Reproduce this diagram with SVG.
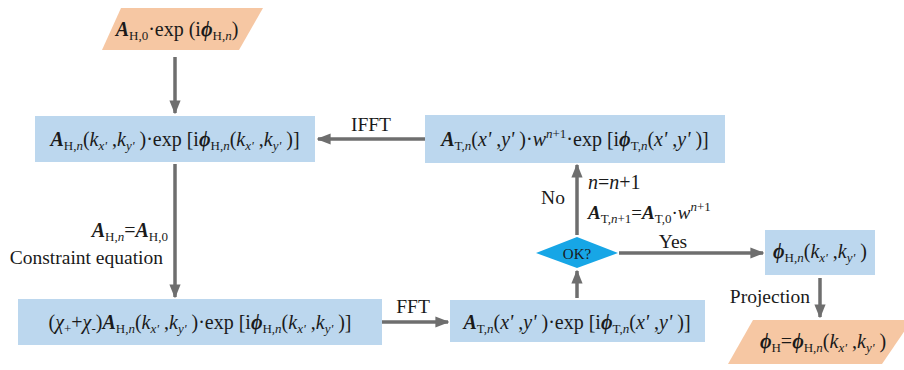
<svg xmlns="http://www.w3.org/2000/svg" width="904" height="370" viewBox="0 0 904 370" font-family="Liberation Serif, serif">
  <style>
    .m { font-size: 20px; fill: #1a1a1a; }
    .lbl { font-size: 19.5px; fill: #1a1a1a; }
    .A { font-weight: bold; font-style: italic; }
    .i { font-style: italic; }
    .s { font-size: 13px; }
    .box { fill: #bcd7ee; }
    .io { fill: #f6c7a3; }
    .dec { fill: #17a6e6; }
    .wire { stroke: #6e6e6e; stroke-width: 3.5; fill: none; marker-end: url(#head); }
  </style>
  <defs>
    <marker id="head" viewBox="0 0 10 10" refX="9" refY="5" markerWidth="4" markerHeight="4" orient="auto" markerUnits="strokeWidth">
      <path d="M0,1 L10,5 L0,9 z" fill="#6e6e6e"/>
    </marker>
  </defs>

  <!-- connectors and their labels -->
  <g id="connectors">
    <line class="wire" x1="175" y1="57" x2="175" y2="113"/>
    <line class="wire" x1="425" y1="139" x2="318" y2="139"/>
    <line class="wire" x1="175" y1="164" x2="175" y2="297"/>
    <line class="wire" x1="382" y1="322" x2="448" y2="322"/>
    <line class="wire" x1="577" y1="298" x2="577" y2="271"/>
    <line class="wire" x1="577" y1="235" x2="577" y2="165"/>
    <line class="wire" x1="619" y1="253" x2="763" y2="253"/>
    <line class="wire" x1="820" y1="278" x2="820" y2="317"/>
    <text class="lbl" x="371" y="131" text-anchor="middle">IFFT</text>
    <text class="lbl" x="413" y="313" text-anchor="middle">FFT</text>
    <text class="lbl" x="673" y="248" text-anchor="middle">Yes</text>
    <text class="lbl" x="553" y="204" text-anchor="middle">No</text>
    <text class="lbl" x="810" y="303" text-anchor="end">Projection</text>
    <text class="lbl" x="163" y="264" text-anchor="end">Constraint equation</text>
    <text class="m" x="168" y="237" text-anchor="end" font-size="19"><tspan class="A">A</tspan><tspan class="s" dy="4">H,<tspan class="i">n</tspan></tspan><tspan dy="-4">=</tspan><tspan class="A">A</tspan><tspan class="s" dy="4">H,0</tspan></text>
    <text class="m" x="588" y="189"><tspan class="i">n</tspan>=<tspan class="i">n</tspan>+1</text>
    <text class="m" x="588" y="219" style="font-size:19px"><tspan class="A">A</tspan><tspan class="s" dy="4">T,<tspan class="i">n</tspan>+1</tspan><tspan dy="-4">=</tspan><tspan class="A">A</tspan><tspan class="s" dy="4">T,0</tspan><tspan dy="-4">·</tspan><tspan class="i">w</tspan><tspan class="s" dy="-8"><tspan class="i">n</tspan>+1</tspan></text>
  </g>

  <g id="start">
    <polygon class="io" points="121,8 263,8 239,50 102,50"/>
    <text class="m" x="177" y="36" text-anchor="middle"><tspan class="A">A</tspan><tspan class="s" dy="4">H,0</tspan><tspan dy="-4">·exp (i</tspan><tspan class="A">ϕ</tspan><tspan class="s" dy="4">H,<tspan class="i">n</tspan></tspan><tspan dy="-4">)</tspan></text>
  </g>

  <g id="holo-field">
    <rect class="box" x="35" y="116" width="280" height="46"/>
    <text class="m" x="175" y="146" text-anchor="middle"><tspan class="A">A</tspan><tspan class="s" dy="4">H,<tspan class="i">n</tspan></tspan><tspan dy="-4">(</tspan><tspan class="i">k</tspan><tspan class="s i" dy="4">x'</tspan><tspan dy="-4"> ,</tspan><tspan class="i">k</tspan><tspan class="s i" dy="4">y'</tspan><tspan dy="-4"> )·exp [i</tspan><tspan class="A">ϕ</tspan><tspan class="s" dy="4">H,<tspan class="i">n</tspan></tspan><tspan dy="-4">(</tspan><tspan class="i">k</tspan><tspan class="s i" dy="4">x'</tspan><tspan dy="-4"> ,</tspan><tspan class="i">k</tspan><tspan class="s i" dy="4">y'</tspan><tspan dy="-4"> )]</tspan></text>
  </g>

  <g id="target-weighted">
    <rect class="box" x="425" y="115" width="300" height="48"/>
    <text class="m" x="575" y="146" text-anchor="middle"><tspan class="A">A</tspan><tspan class="s" dy="4">T,<tspan class="i">n</tspan></tspan><tspan dy="-4">(</tspan><tspan class="i">x'</tspan> ,<tspan class="i">y'</tspan> )·<tspan class="i">w</tspan><tspan class="s" dy="-8"><tspan class="i">n</tspan>+1</tspan><tspan dy="8">·exp [i</tspan><tspan class="A">ϕ</tspan><tspan class="s" dy="4">T,<tspan class="i">n</tspan></tspan><tspan dy="-4">(</tspan><tspan class="i">x'</tspan> ,<tspan class="i">y'</tspan> )]</text>
  </g>

  <g id="constrained">
    <rect class="box" x="18" y="299" width="364" height="46"/>
    <text class="m" x="200" y="329" text-anchor="middle">(<tspan class="i">χ</tspan><tspan class="s" dy="4">+</tspan><tspan dy="-4">+</tspan><tspan class="i">χ</tspan><tspan class="s" dy="4">-</tspan><tspan dy="-4">)</tspan><tspan class="A">A</tspan><tspan class="s" dy="4">H,<tspan class="i">n</tspan></tspan><tspan dy="-4">(</tspan><tspan class="i">k</tspan><tspan class="s i" dy="4">x'</tspan><tspan dy="-4"> ,</tspan><tspan class="i">k</tspan><tspan class="s i" dy="4">y'</tspan><tspan dy="-4"> )·exp [i</tspan><tspan class="A">ϕ</tspan><tspan class="s" dy="4">H,<tspan class="i">n</tspan></tspan><tspan dy="-4">(</tspan><tspan class="i">k</tspan><tspan class="s i" dy="4">x'</tspan><tspan dy="-4"> ,</tspan><tspan class="i">k</tspan><tspan class="s i" dy="4">y'</tspan><tspan dy="-4"> )]</tspan></text>
  </g>

  <g id="target-field">
    <rect class="box" x="450" y="300" width="255" height="42"/>
    <text class="m" x="577" y="329" text-anchor="middle"><tspan class="A">A</tspan><tspan class="s" dy="4">T,<tspan class="i">n</tspan></tspan><tspan dy="-4">(</tspan><tspan class="i">x'</tspan> ,<tspan class="i">y'</tspan> )·exp [i<tspan class="A">ϕ</tspan><tspan class="s" dy="4">T,<tspan class="i">n</tspan></tspan><tspan dy="-4">(</tspan><tspan class="i">x'</tspan> ,<tspan class="i">y'</tspan> )]</text>
  </g>

  <g id="check">
    <polygon class="dec" points="577,237 618,253 577,268 536,253"/>
    <text class="lbl" x="577" y="259" text-anchor="middle" style="font-size:15px">OK?</text>
  </g>

  <g id="phase-out">
    <rect class="box" x="765" y="230" width="110" height="45"/>
    <text class="m" x="820" y="258" text-anchor="middle"><tspan class="A">ϕ</tspan><tspan class="s" dy="4">H,<tspan class="i">n</tspan></tspan><tspan dy="-4">(</tspan><tspan class="i">k</tspan><tspan class="s i" dy="4">x'</tspan><tspan dy="-4"> ,</tspan><tspan class="i">k</tspan><tspan class="s i" dy="4">y'</tspan><tspan dy="-4"> )</tspan></text>
  </g>

  <g id="result">
    <polygon class="io" points="753,320 912,320 882,364 728,364"/>
    <text class="m" x="823" y="348" text-anchor="middle"><tspan class="A">ϕ</tspan><tspan class="s" dy="4">H</tspan><tspan dy="-4">=</tspan><tspan class="A">ϕ</tspan><tspan class="s" dy="4">H,<tspan class="i">n</tspan></tspan><tspan dy="-4">(</tspan><tspan class="i">k</tspan><tspan class="s i" dy="4">x'</tspan><tspan dy="-4"> ,</tspan><tspan class="i">k</tspan><tspan class="s i" dy="4">y'</tspan><tspan dy="-4"> )</tspan></text>
  </g>
</svg>
